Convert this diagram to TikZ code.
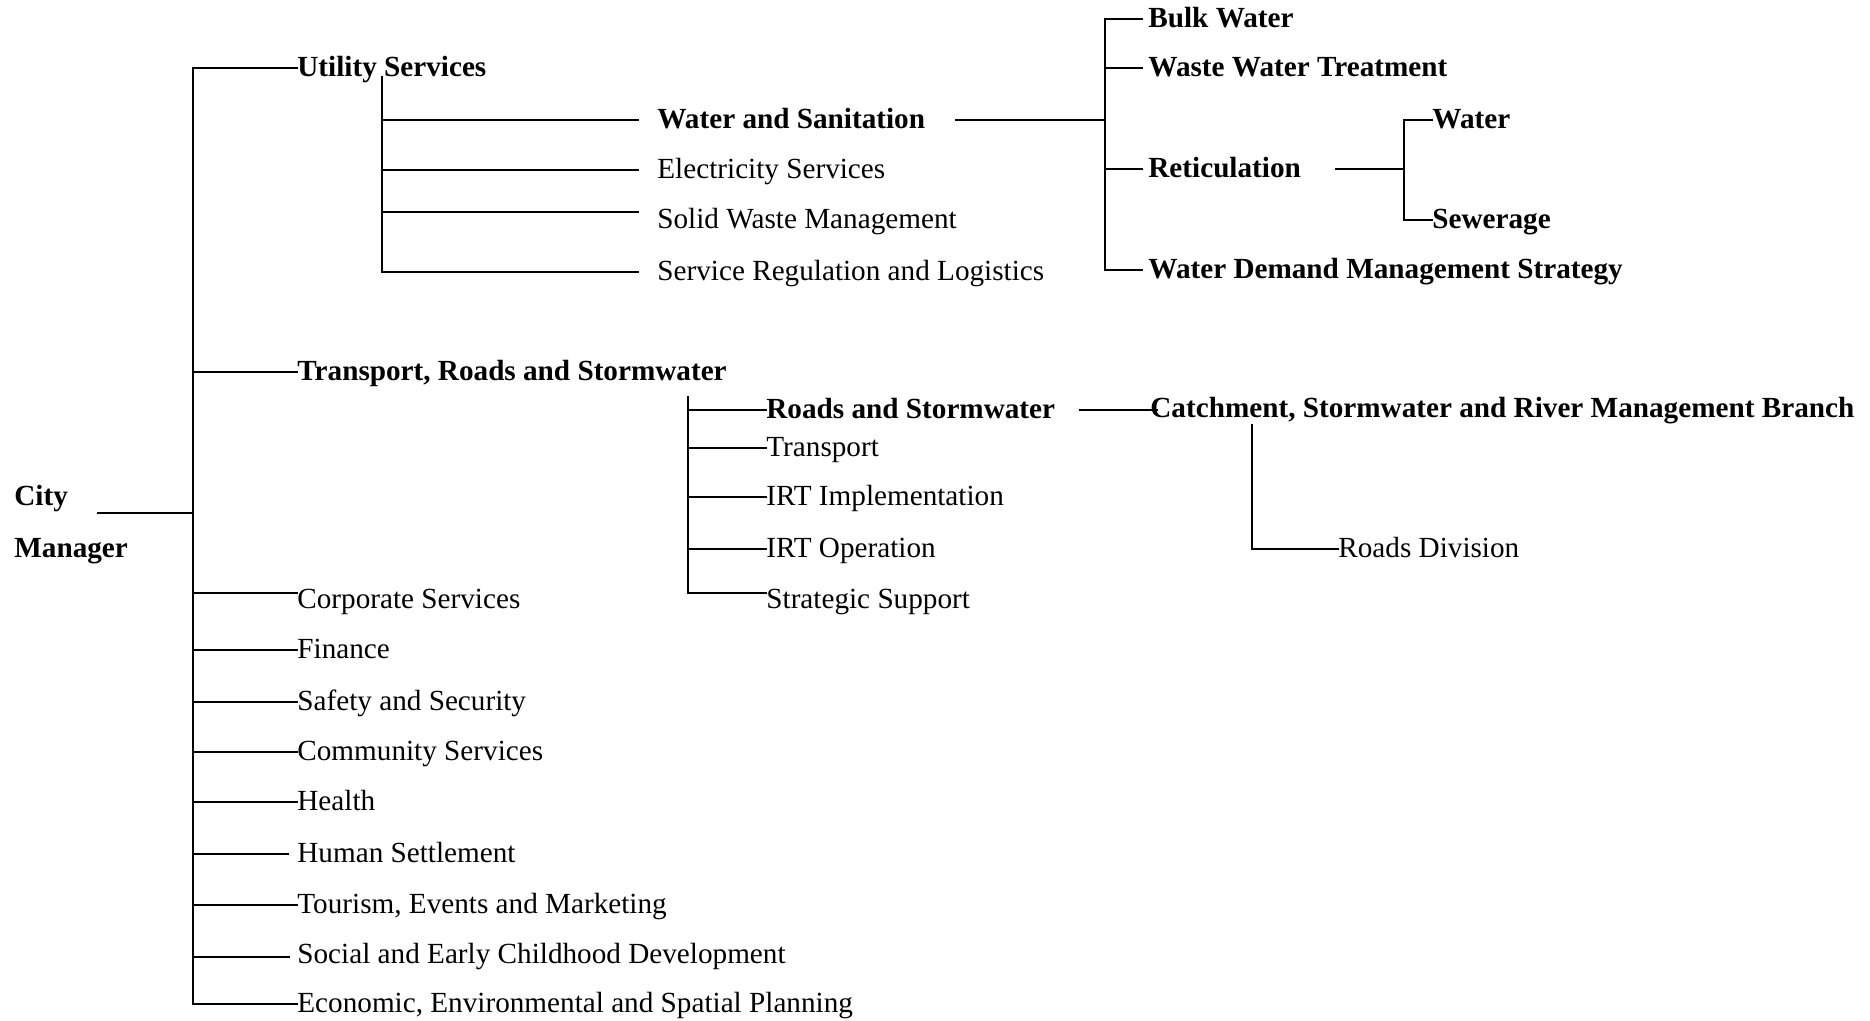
\documentclass[tikz,border=0pt]{standalone}
\usepackage{fontspec}
\setmainfont{Liberation Serif}
\begin{document}
\begin{tikzpicture}[x=0.5pt,y=-0.5pt,
  lbl/.style={anchor=west, inner sep=0pt, text height=0.83em, text depth=0pt, font=\fontsize{14.6}{17}\selectfont},
  blbl/.style={lbl, font=\fontsize{14.6}{17}\selectfont\bfseries},
  conn/.style={line width=1.1pt, line cap=rect}]
\useasboundingbox (0,0) rectangle (1870,1021);
% City manager
\node[blbl] (city) at (14,497) {City};
\node[blbl] (mgr) at (14,549) {Manager};
\coordinate (tx) at (193,0);
\coordinate (cmEnd) at (98,513);
% level 1
\node[blbl] (util) at (297,68) {Utility Services};
\node[blbl] (trs) at (297,372) {Transport, Roads and Stormwater};
\node[lbl] (corp) at (297,600) {Corporate Services};
\node[lbl] (fin) at (297,650) {Finance};
\node[lbl] (safe) at (297,702) {Safety and Security};
\node[lbl] (comm) at (297,752) {Community Services};
\node[lbl] (health) at (297,802) {Health};
\node[lbl] (hum) at (297,854) {Human Settlement};
\node[lbl] (tour) at (297,905) {Tourism, Events and Marketing};
\node[lbl] (soc) at (297,955) {Social and Early Childhood Development};
\node[lbl] (econ) at (297,1004) {Economic, Environmental and Spatial Planning};
\draw[conn] (cmEnd) -- (cmEnd -| tx);
\draw[conn] (util.west -| tx) -- (econ.west -| tx);
\foreach \n in {util,trs,fin,safe,comm,health,tour,econ}
  \draw[conn] (\n.west -| tx) -- (\n.west);
\draw[conn] ([yshift=3.5pt]corp.west -| tx) -- ([yshift=3.5pt]corp.west);
\draw[conn] ([yshift=-1pt]soc.west -| tx) -- ([xshift=-4pt,yshift=-1pt]soc.west);
\draw[conn] ([xshift=1pt]hum.west -| tx) -- ([xshift=-4.5pt]hum.west);
% utility services sub
\coordinate (ux) at (382,77);
\node[blbl] (ws) at (657,120) {Water and Sanitation};
\node[lbl] (elec) at (657,170) {Electricity Services};
\node[lbl] (swm) at (657,220) {Solid Waste Management};
\node[lbl] (srl) at (657,272) {Service Regulation and Logistics};
\draw[conn] (ux) -- (ux |- srl.west);
\foreach \n in {ws,elec,srl}
  \draw[conn] (\n.west -| ux) -- ([xshift=-9.5pt]\n.west);
\draw[conn] ([yshift=4pt]swm.west -| ux) -- ([xshift=-9.5pt,yshift=4pt]swm.west);
% water and sanitation sub
\coordinate (wx) at (1105,0);
\node[blbl] (bulk) at (1148,19) {Bulk Water};
\node[blbl] (wwt) at (1148,68) {Waste Water Treatment};
\node[blbl] (ret) at (1148,169) {Reticulation};
\node[blbl] (wdms) at (1148,270) {Water Demand Management Strategy};
\draw[conn] ([xshift=15.5pt]ws.east) -- (ws.east -| wx);
\draw[conn] (bulk.west -| wx) -- (wdms.west -| wx);
\foreach \n in {bulk,wwt,ret,wdms}
  \draw[conn] (\n.west -| wx) -- ([xshift=-3pt]\n.west);
% reticulation sub
\coordinate (rx) at (1404,0);
\node[blbl] (water) at (1432,120) {Water};
\node[blbl] (sew) at (1432,220) {Sewerage};
\draw[conn] ([xshift=17.5pt]ret.east) -- (ret.east -| rx);
\draw[conn] (water.west -| rx) -- (sew.west -| rx);
\foreach \n in {water,sew}
  \draw[conn] (\n.west -| rx) -- (\n.west);
% transport sub
\coordinate (tsx) at (688,397);
\node[blbl] (rs) at (766,410) {Roads and Stormwater};
\node[lbl] (trn) at (766,448) {Transport};
\node[lbl] (irti) at (766,497) {IRT Implementation};
\node[lbl] (irto) at (766,549) {IRT Operation};
\node[lbl] (strat) at (766,600) {Strategic Support};
\draw[conn] (tsx) -- ([yshift=3.5pt]strat.west -| tsx);
\foreach \n in {rs,trn,irti,irto}
  \draw[conn] (\n.west -| tsx) -- (\n.west);
\draw[conn] ([yshift=3.5pt]strat.west -| tsx) -- ([yshift=3.5pt]strat.west);
% catchment
\node[blbl] (catch) at (1150,409) {Catchment, Stormwater and River Management Branch};
\draw[conn] ([xshift=12.5pt]rs.east) -- ([xshift=3.5pt]catch.west |- rs.east);
\coordinate (cdrop) at (1252,425);
\node[lbl] (rd) at (1338,549) {Roads Division};
\draw[conn] (cdrop) -- (cdrop |- rd.west) -- (rd.west);
\end{tikzpicture}
\end{document}
